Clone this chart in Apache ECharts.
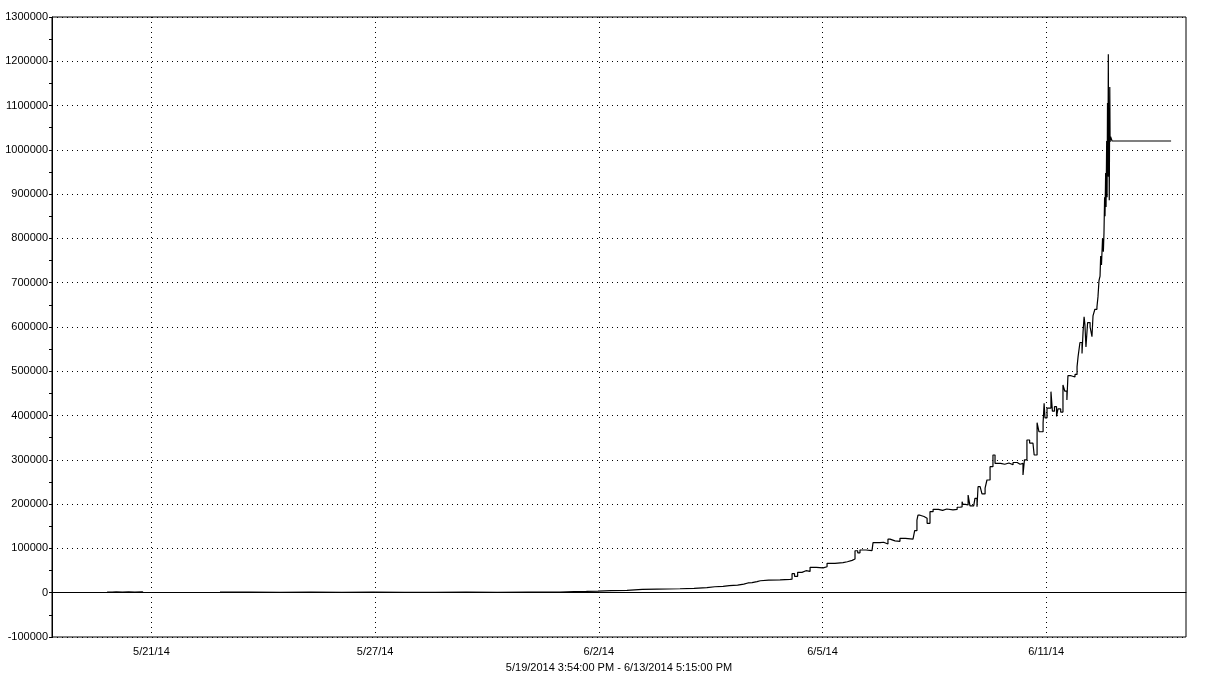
<!DOCTYPE html>
<html>
<head>
<meta charset="utf-8">
<script src="https://cdn.jsdelivr.net/npm/echarts@6/dist/echarts.min.js"></script>
<style>
html,body{margin:0;padding:0;background:#fff;}
#chart{width:1208px;height:682px;}
</style>
</head>
<body>
<div id="chart"></div>
<script>
// Bar index (trading-bar position) of each sample
const barIndex = [
  26.6,29,31,34,37,40,43.5,44,
  81.1,95,110,125,140,155,170,185,200,215,230,240,245.3,252,258,263.6,270,277.6,285,292,303.2,310,316.2,320,324,327,331,334,336,338,340.4,342,346,351.5,356.3,357.3,358.5,360,362.1,364,366,369,372.3,374.2,378,381.9,384,386.3,387.7,389,390.1,393,395.9,396.4,399.8,401.5,403.6,404.6,407,409.4,412,415.7,416.5,417.6,418.1,419.1,421,422.5,423.9,425.4,428,430,432,435,437,438.4,439.4,439.8,441,442.3,443.2,445,445.6,446.6,447.1,448.1,449,450.5,451.4,452.9,454.3,455.3,458,460,462,464,466,467.4,468.8,469.5,470.7,472,473.6,474.2,475.6,476.5,478.5,479,479.4,480.4,482.3,483,484,485,485.7,487,488.1,489,490,490.5,492,493.9,494.9,495.4,496.3,497.3,497.8,498.3,498.7,499.2,500,501.2,502.1,502.6,503.5,504.5,505,505.5,506,506.3,506.7,507.2,507.6,507.9,508.2,508.4,508.7,508.9,509.2,509.4,509.6,509.8,510,510.15,510.3,510.45,510.7,510.85,511.1,511.8,540.3
];
// Equity value at each sample (null = no data)
const equity = [
  1200,1700,1400,1800,1500,1900,1600,null,
  1200,900,1300,1000,1200,900,1100,1300,1000,1200,1400,1300,2300,2800,3500,4500,5500,7700,8300,9000,10000,11500,13500,14500,15800,17000,19500,22000,22600,25000,27000,28500,29000,30000,30500,43000,37000,46000,49700,48000,57300,56000,58700,66400,68000,70000,73000,76000,94800,90000,96400,95000,97000,113000,114000,110000,121000,117000,116000,122800,121000,124000,140000,164000,175000,172000,168000,156700,183000,188300,186000,189000,187000,188000,193000,194000,205500,199600,198000,220600,196000,194000,213000,194000,239400,235700,223000,236000,254500,284500,311000,292000,290000,293000,289000,294000,290000,292000,266000,300000,344800,338000,333500,311000,384000,363500,383000,428000,395000,417000,454000,410000,420000,398000,415000,408000,469000,455000,435000,490000,487000,493000,510000,533000,565000,540000,589000,623000,605000,555000,610000,600000,578000,625000,640000,645000,668000,705000,715000,760000,740000,800000,770000,812000,893000,850000,948000,871000,1020000,893000,1106000,940000,1216000,939000,1083000,886000,1142000,1018000,1030000,1020000,1020000
];
// Date ticks on the x axis (bar index -> label)
const tickBars = [48, 156, 264, 372, 480];
const tickLabels = ['5/21/14', '5/27/14', '6/2/14', '6/5/14', '6/11/14'];
const rangeTitle = '5/19/2014 3:54:00 PM - 6/13/2014 5:15:00 PM';

const seriesData = barIndex.map((x, i) => [x, equity[i]]);
const FONT = '"Liberation Sans", Arial, sans-serif';

const chart = echarts.init(document.getElementById('chart'), null, {renderer: 'canvas'});
chart.setOption({
  animation: false,
  backgroundColor: '#ffffff',
  grid: {left: 52, right: 22, top: 17, bottom: 45, show: true, borderColor: '#000', borderWidth: 1, backgroundColor: 'transparent'},
  xAxis: {
    type: 'value',
    min: 0,
    max: 547.5,
    name: rangeTitle,
    nameLocation: 'middle',
    nameGap: 25,
    nameTextStyle: {color: '#000', fontFamily: FONT, fontSize: 11},
    axisLine: {show: true, lineStyle: {color: '#000', width: 1}},
    axisTick: {show: false, customValues: tickBars},
    axisLabel: {
      customValues: tickBars,
      color: '#000', fontFamily: FONT, fontSize: 11, margin: 9,
      formatter: v => { const i = tickBars.indexOf(v); return i >= 0 ? tickLabels[i] : ''; }
    },
    splitLine: {show: true, lineStyle: {color: '#000', width: 1, type: [1, 4]}}
  },
  yAxis: {
    type: 'value',
    min: -100000,
    max: 1300000,
    interval: 100000,
    axisLine: {show: true, lineStyle: {color: '#000', width: 1}},
    axisTick: {show: true, length: 3, lineStyle: {color: '#000'}},
    minorTick: {show: true, splitNumber: 2, length: 3, lineStyle: {color: '#000'}},
    axisLabel: {color: '#000', fontFamily: FONT, fontSize: 11, margin: 4, formatter: v => String(v)},
    splitLine: {show: true, lineStyle: {color: '#000', width: 1, type: [1, 4]}}
  },
  series: [{
    type: 'line',
    data: seriesData,
    step: 'end',
    showSymbol: false,
    symbol: 'none',
    connectNulls: false,
    lineStyle: {color: '#000', width: 1.2},
    markLine: {
      silent: true,
      symbol: ['none', 'none'],
      label: {show: false},
      lineStyle: {color: '#000', width: 1, type: 'solid'},
      data: [{yAxis: 0}]
    },
    z: 3
  }]
});
</script>
</body>
</html>
